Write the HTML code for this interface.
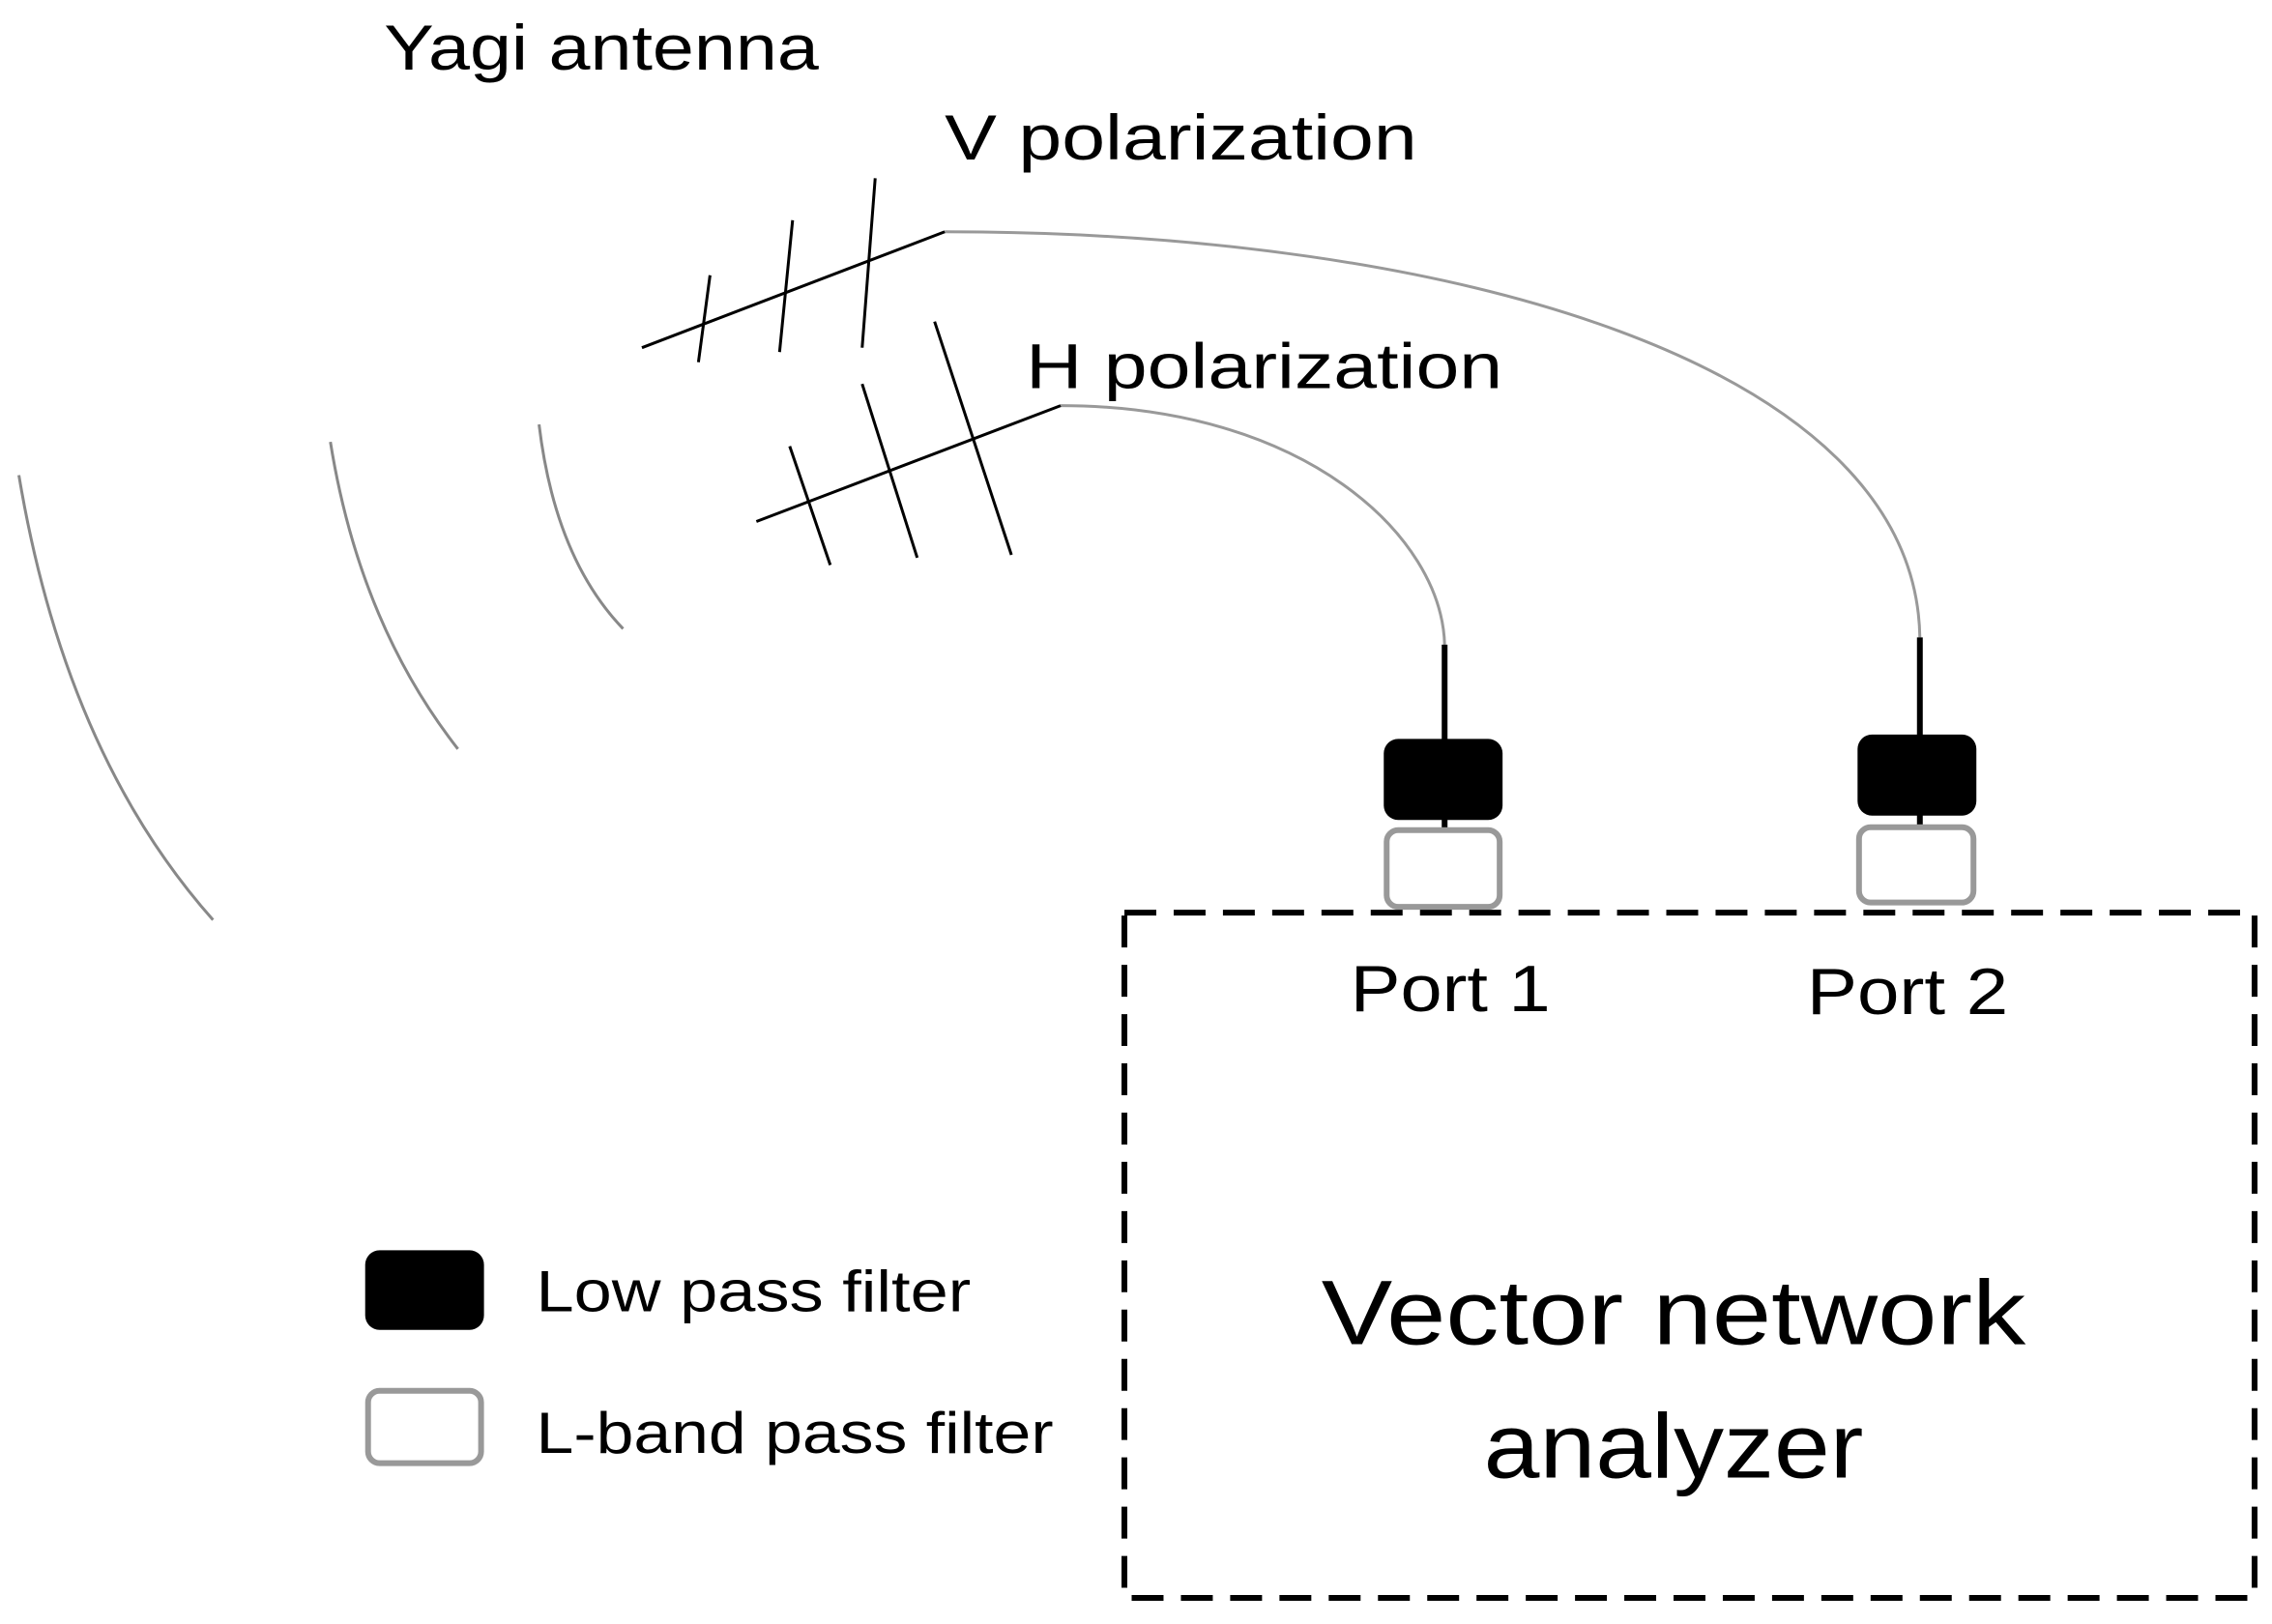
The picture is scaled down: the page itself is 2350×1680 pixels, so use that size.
<!DOCTYPE html>
<html><head><meta charset="utf-8"><style>html,body{margin:0;padding:0;background:#fff}svg{display:block}</style></head>
<body>
<svg width="2350" height="1680" viewBox="0 0 1568 1121" xmlns="http://www.w3.org/2000/svg" font-family="Liberation Sans, sans-serif">
<rect width="1568" height="1121" fill="#fff"/>
<g fill="none" stroke="#888" stroke-width="2">
<path d="M13,328 Q45,520 147,635"/>
<path d="M228,305 Q248,430 316,517"/>
<path d="M372,293 Q383,385 430,434"/>
<path d="M652,160 C1000,160 1322,250 1325,440" stroke="#999"/>
<path d="M732,280 C900,280 995,370 997,445" stroke="#999"/>
</g>
<g stroke="#000" stroke-width="2">
<line x1="443" y1="240" x2="652" y2="160"/>
<line x1="482" y1="250" x2="490" y2="190"/>
<line x1="538" y1="243" x2="547" y2="152"/>
<line x1="595" y1="240" x2="604" y2="123"/>
<line x1="522" y1="360" x2="732" y2="280"/>
<line x1="545" y1="308" x2="573" y2="390"/>
<line x1="595" y1="265" x2="633" y2="385"/>
<line x1="645" y1="222" x2="698" y2="383"/>
</g>
<g stroke="#000" stroke-width="4">
<line x1="997" y1="445" x2="997" y2="575"/>
<line x1="1325" y1="440" x2="1325" y2="572"/>
</g>
<rect x="955" y="510" width="82" height="56" rx="10" fill="#000"/>
<rect x="1282" y="507" width="82" height="56" rx="10" fill="#000"/>
<rect x="957" y="573" width="78" height="53" rx="8" fill="#fff" stroke="#999" stroke-width="4"/>
<rect x="1283" y="571" width="79" height="52" rx="8" fill="#fff" stroke="#999" stroke-width="4"/>
<rect x="776" y="630" width="780" height="473" fill="none" stroke="#000" stroke-width="4" stroke-dasharray="22,12"/>
<rect x="252" y="863" width="82" height="55" rx="10" fill="#000"/>
<rect x="254" y="960" width="78" height="50" rx="8" fill="#fff" stroke="#999" stroke-width="4"/>
<g fill="#000" lengthAdjust="spacingAndGlyphs">
<text x="265" y="48" font-size="44" textLength="300" lengthAdjust="spacingAndGlyphs">Yagi antenna</text>
<text x="652" y="110" font-size="44" textLength="326" lengthAdjust="spacingAndGlyphs">V polarization</text>
<text x="708" y="268" font-size="44" textLength="329" lengthAdjust="spacingAndGlyphs">H polarization</text>
<text x="932" y="698" font-size="45" textLength="138" lengthAdjust="spacingAndGlyphs">Port 1</text>
<text x="1247" y="700" font-size="45" textLength="139" lengthAdjust="spacingAndGlyphs">Port 2</text>
<text x="912" y="928" font-size="63" textLength="486" lengthAdjust="spacingAndGlyphs">Vector network</text>
<text x="1024" y="1020" font-size="63" textLength="262" lengthAdjust="spacingAndGlyphs">analyzer</text>
<text x="370" y="905" font-size="40" textLength="300" lengthAdjust="spacingAndGlyphs">Low pass filter</text>
<text x="370" y="1003" font-size="40" textLength="357" lengthAdjust="spacingAndGlyphs">L-band pass filter</text>
</g>
</svg>
</body></html>
